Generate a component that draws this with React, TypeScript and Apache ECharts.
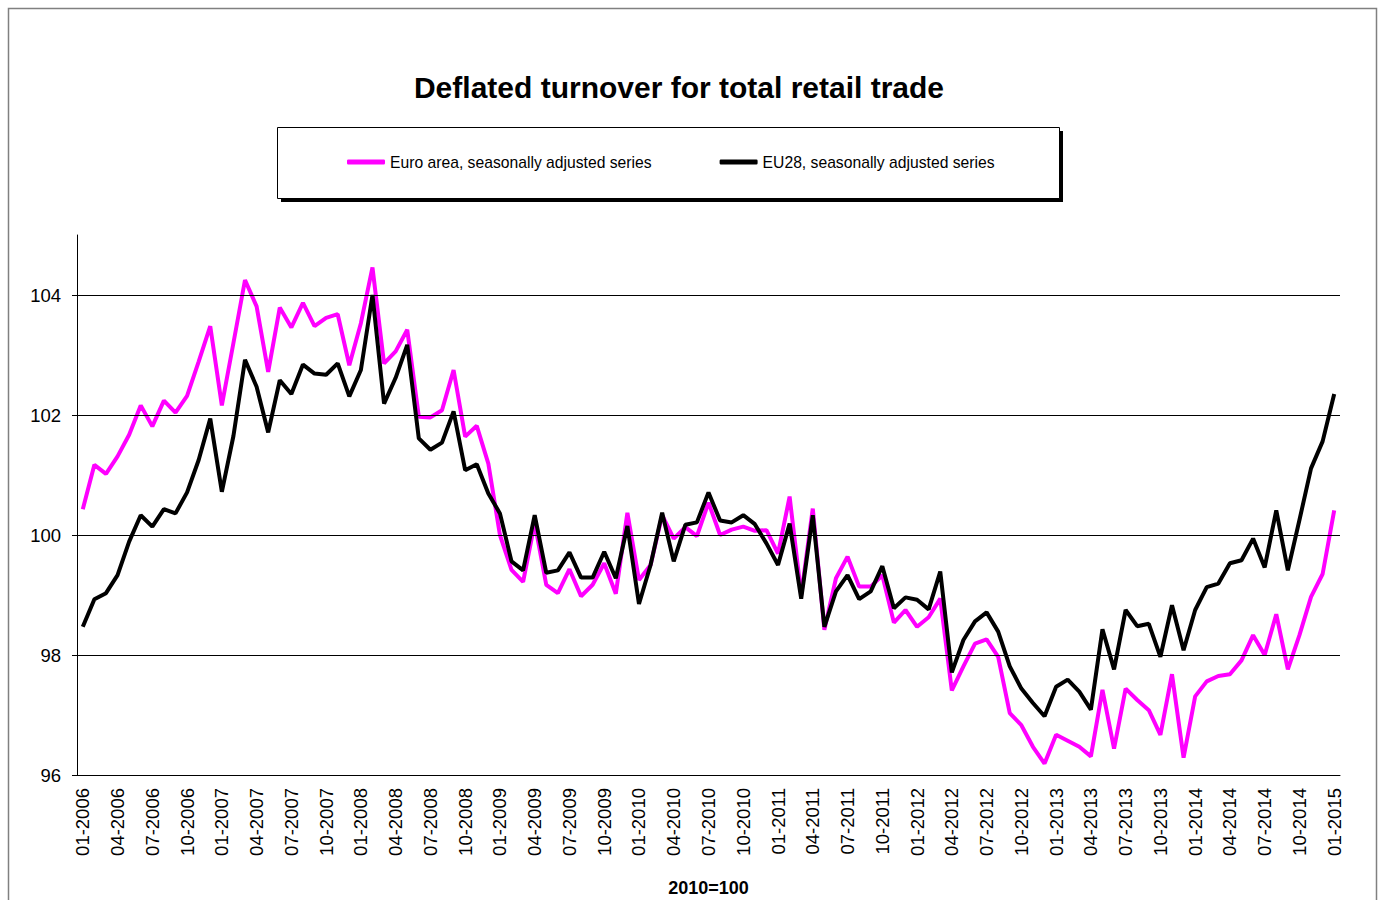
import React, { useEffect, useRef } from "react";
import * as echarts from "echarts";

const startYear = 2006;
const monthCount = 109;
const categories: string[] = [];
for (let i = 0; i < monthCount; i++) {
  const y = startYear + Math.floor(i / 12);
  const m = (i % 12) + 1;
  categories.push((m < 10 ? "0" + m : "" + m) + "-" + y);
}

const euroArea = [
  100.43, 101.17, 101.02, 101.31, 101.67, 102.16, 101.81, 102.24, 102.04, 102.32, 102.89, 103.48,
  102.16, 103.2, 104.25, 103.81, 102.72, 103.79, 103.46, 103.87, 103.48, 103.62, 103.68, 102.83,
  103.53, 104.46, 102.86, 103.06, 103.42, 101.97, 101.96, 102.08, 102.75, 101.64, 101.82, 101.19,
  100.0, 99.42, 99.22, 100.2, 99.17, 99.03, 99.43, 98.98, 99.17, 99.53, 99.02, 100.37,
  99.25, 99.5, 100.33, 99.94, 100.13, 99.98, 100.54, 100.0, 100.09, 100.14, 100.07, 100.08,
  99.69, 100.64, 99.0, 100.44, 98.42, 99.28, 99.64, 99.14, 99.14, 99.33, 98.54, 98.75,
  98.47, 98.63, 98.94, 97.41, 97.81, 98.19, 98.26, 97.97, 97.03, 96.83, 96.47, 96.19,
  96.67, 96.57, 96.47, 96.31, 97.42, 96.44, 97.44, 97.25, 97.08, 96.67, 97.68, 96.29,
  97.31, 97.56, 97.65, 97.68, 97.91, 98.33, 98.0, 98.68, 97.76, 98.33, 98.97, 99.35,
  100.41,
];

const eu28 = [
  98.47, 98.93, 99.03, 99.33, 99.89, 100.33, 100.14, 100.43, 100.36, 100.71, 101.25, 101.94,
  100.72, 101.65, 102.92, 102.47, 101.71, 102.58, 102.35, 102.84, 102.69, 102.67, 102.86, 102.31,
  102.75, 104.0, 102.19, 102.62, 103.17, 101.61, 101.42, 101.54, 102.06, 101.08, 101.18, 100.69,
  100.36, 99.56, 99.41, 100.33, 99.37, 99.41, 99.71, 99.29, 99.29, 99.72, 99.28, 100.15,
  98.85, 99.5, 100.37, 99.56, 100.17, 100.21, 100.71, 100.24, 100.21, 100.33, 100.18, 99.86,
  99.5, 100.19, 98.94, 100.33, 98.47, 99.06, 99.33, 98.93, 99.06, 99.48, 98.78, 98.96,
  98.92, 98.76, 99.39, 97.71, 98.25, 98.56, 98.71, 98.39, 97.81, 97.44, 97.2, 96.98,
  97.47, 97.59, 97.39, 97.09, 98.43, 97.76, 98.75, 98.48, 98.52, 97.97, 98.83, 98.08,
  98.75, 99.13, 99.19, 99.53, 99.58, 99.94, 99.46, 100.41, 99.41, 100.25, 101.11, 101.56,
  102.35,
];

const yTicks = [96, 98, 100, 102, 104];
const gridValues = [98, 100, 102, 104];

const seriesNames = [
  "Euro area, seasonally adjusted series",
  "EU28, seasonally adjusted series",
];
const titleText = "Deflated turnover for total retail trade";
const axisNameText = "2010=100";

export default function App() {
  const ref = useRef<HTMLDivElement>(null);
  useEffect(() => {
    if (!ref.current) return;
    const chart = echarts.init(ref.current, null, { renderer: "svg" });
    const sans = "Liberation Sans";
    chart.setOption({
      animation: false,
      backgroundColor: "#fff",
      graphic: [
        {
          type: "rect",
          z: 0,
          shape: { x: 8.5, y: 8.5, width: 1368, height: 1000 },
          style: { fill: "none", stroke: "#808080", lineWidth: 1.5 },
        },
        {
          type: "rect",
          z: 1,
          shape: { x: 281, y: 131, width: 782, height: 71 },
          style: { fill: "#000" },
        },
        {
          type: "rect",
          z: 1,
          shape: { x: 277.5, y: 127.5, width: 782, height: 71 },
          style: { fill: "#fff", stroke: "#000", lineWidth: 1 },
        },
        {
          type: "text",
          z: 2,
          x: 679,
          y: 87,
          style: {
            text: titleText,
            fontFamily: sans,
            fontWeight: "bold",
            fontSize: 30,
            fill: "#000",
            align: "center",
            verticalAlign: "middle",
          },
        },
      ],
      legend: {
        data: seriesNames,
        left: 347,
        top: 154,
        padding: 0,
        itemWidth: 38,
        itemHeight: 5,
        itemGap: 68,
        icon: "roundRect",
        z: 5,
        textStyle: { fontFamily: sans, fontSize: 15.7, color: "#000" },
      },
      grid: {
        left: 77,
        right: 43,
        top: 235,
        bottom: 125,
        containLabel: false,
        outerBoundsMode: "none",
      },
      xAxis: {
        type: "category",
        data: categories,
        boundaryGap: true,
        name: axisNameText,
        nameLocation: "middle",
        nameGap: 104,
        nameTextStyle: { fontFamily: sans, fontWeight: "bold", fontSize: 18, color: "#000" },
        axisLine: { lineStyle: { color: "#000", width: 1 } },
        axisTick: { interval: 2, length: 5, lineStyle: { color: "#000" } },
        axisLabel: {
          interval: 2,
          rotate: 90,
          margin: 13,
          fontFamily: sans,
          fontSize: 18.5,
          color: "#000",
        },
        splitLine: { show: false },
      },
      yAxis: {
        type: "value",
        min: 96,
        max: 105,
        interval: 2,
        axisLine: { show: true, lineStyle: { color: "#000", width: 1 } },
        axisTick: { show: true, length: 5, customValues: yTicks, lineStyle: { color: "#000" } },
        axisLabel: {
          customValues: yTicks,
          margin: 16,
          fontFamily: sans,
          fontSize: 18.5,
          color: "#000",
        },
        splitLine: { show: false },
      },
      series: [
        {
          name: "grid",
          type: "line",
          data: [],
          z: 1,
          silent: true,
          markLine: {
            silent: true,
            symbol: "none",
            label: { show: false },
            lineStyle: { color: "#000", width: 1, type: "solid" },
            data: gridValues.map((v) => ({ yAxis: v })),
          },
        },
        {
          name: seriesNames[0],
          type: "line",
          data: euroArea,
          z: 3,
          symbol: "none",
          color: "#FF00FF",
          lineStyle: { color: "#FF00FF", width: 4 },
        },
        {
          name: seriesNames[1],
          type: "line",
          data: eu28,
          z: 4,
          symbol: "none",
          color: "#000000",
          lineStyle: { color: "#000000", width: 4 },
        },
      ],
    });
    return () => chart.dispose();
  }, []);
  return (
    <div
      ref={ref}
      style={{ position: "absolute", left: 0, top: 0, width: 1383, height: 900 }}
    />
  );
}
